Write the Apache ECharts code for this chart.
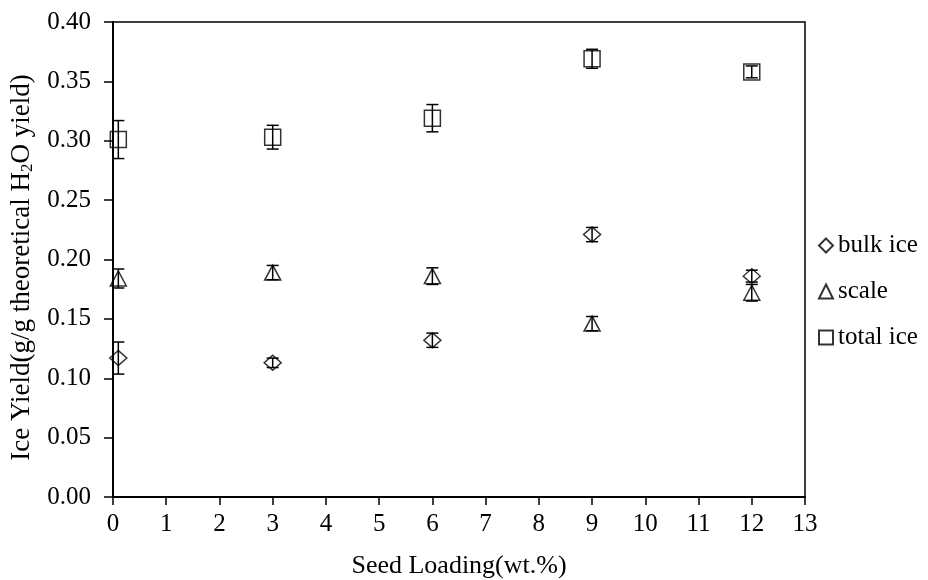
<!DOCTYPE html>
<html>
<head>
<meta charset="utf-8">
<script src="https://cdn.jsdelivr.net/npm/echarts@6/dist/echarts.min.js"></script>
<style>
  html, body { margin: 0; padding: 0; background: #fff; }
  #chart { width: 928px; height: 580px; }
</style>
</head>
<body>
<div id="chart"></div>
<script>
// Seed loading (wt.%) for each run
const seedLoading = [0.1, 3, 6, 9, 12];

// Mean ice yields (g/g theoretical H2O yield)
const bulkIce = [0.117, 0.113, 0.132, 0.221, 0.186];
const scaleIce = [0.184, 0.189, 0.186, 0.146, 0.172];
const totalIce = [0.301, 0.303, 0.319, 0.369, 0.358];

// Standard deviations used for the error bars
const bulkErr = [0.0135, 0.004, 0.006, 0.006, 0.005];
const scaleErr = [0.008, 0.006, 0.007, 0.006, 0.007];
const totalErr = [0.016, 0.010, 0.0115, 0.008, 0.005];

const xTicks = [0, 13, 1];
const yTicks = [0, 0.4, 0.05];

const FONT = 'Liberation Serif';
const FS = 25;

function points(ys) {
  return seedLoading.map((x, i) => [x, ys[i]]);
}
function errRows(ys, es) {
  return seedLoading.map((x, i) => [x, ys[i] - es[i], ys[i] + es[i]]);
}

// Vertical error bar with short horizontal caps
function renderErrorBar(params, api) {
  const x = api.value(0);
  const lo = api.coord([x, api.value(1)]);
  const hi = api.coord([x, api.value(2)]);
  const half = 6;
  const style = { stroke: '#000', lineWidth: 1.5, fill: null };
  return {
    type: 'group',
    children: [
      { type: 'line', shape: { x1: lo[0], y1: lo[1], x2: hi[0], y2: hi[1] }, style },
      { type: 'line', shape: { x1: hi[0] - half, y1: hi[1], x2: hi[0] + half, y2: hi[1] }, style },
      { type: 'line', shape: { x1: lo[0] - half, y1: lo[1], x2: lo[0] + half, y2: lo[1] }, style }
    ]
  };
}

const markerStyle = { color: 'rgba(255,255,255,0)', borderColor: '#000', borderWidth: 1.5 };

function scatter(name, symbol, size, ys) {
  return {
    name, type: 'scatter', symbol, symbolSize: size,
    data: points(ys), itemStyle: markerStyle, z: 2,
    emphasis: { disabled: true }
  };
}
function errSeries(ys, es) {
  return {
    type: 'custom', renderItem: renderErrorBar,
    data: errRows(ys, es), z: 3, silent: true,
    encode: { x: 0, y: [1, 2] }
  };
}

const chart = echarts.init(document.getElementById('chart'), null, { renderer: 'canvas' });
chart.setOption({
  animation: false,
  backgroundColor: '#fff',
  textStyle: { fontFamily: FONT, color: '#000' },
  grid: {
    left: 113, right: 123, top: 22, bottom: 83,
    containLabel: false, outerBoundsMode: 'none',
    show: true, borderColor: '#000', borderWidth: 1.5
  },
  legend: {
    orient: 'vertical',
    left: 813, top: 228,
    itemWidth: 14, itemHeight: 14, itemGap: 21,
    data: ['bulk ice', 'scale', 'total ice'],
    textStyle: { fontFamily: FONT, fontSize: FS, color: '#000', padding: [0, 0, 0, 0] },
    selectedMode: false
  },
  xAxis: {
    type: 'value', min: xTicks[0], max: xTicks[1], interval: xTicks[2],
    name: 'Seed Loading(wt.%)', nameLocation: 'middle', nameGap: 56,
    nameTextStyle: { fontFamily: FONT, fontSize: 26, color: '#000' },
    axisLine: { onZero: false, lineStyle: { color: '#000', width: 2 } },
    axisTick: { show: true, inside: false, length: 8, lineStyle: { color: '#000', width: 1.5 } },
    axisLabel: { fontFamily: FONT, fontSize: FS, color: '#000', margin: 15 },
    splitLine: { show: false }
  },
  yAxis: {
    type: 'value', min: yTicks[0], max: yTicks[1], interval: yTicks[2],
    name: 'Ice Yield(g/g theoretical H{sub|2}O yield)', nameLocation: 'middle', nameGap: 77, nameRotate: 90,
    nameTextStyle: {
      fontFamily: FONT, fontSize: 27, color: '#000', padding: [0, 16, 0, 0],
      rich: { sub: { fontFamily: FONT, fontSize: 17, color: '#000', verticalAlign: 'bottom', padding: [12, 0, 0, 0] } }
    },
    axisLine: { onZero: false, lineStyle: { color: '#000', width: 2 } },
    axisTick: { show: true, inside: false, length: 9, lineStyle: { color: '#000', width: 1.5 } },
    axisLabel: { fontFamily: FONT, fontSize: FS, color: '#000', margin: 22, formatter: v => v.toFixed(2) },
    splitLine: { show: false }
  },
  series: [
    scatter('bulk ice', 'diamond', [17, 15], bulkIce),
    scatter('scale', 'triangle', [16, 15], scaleIce),
    scatter('total ice', 'rect', [16, 16], totalIce),
    errSeries(bulkIce, bulkErr),
    errSeries(scaleIce, scaleErr),
    errSeries(totalIce, totalErr)
  ]
});
</script>
</body>
</html>
